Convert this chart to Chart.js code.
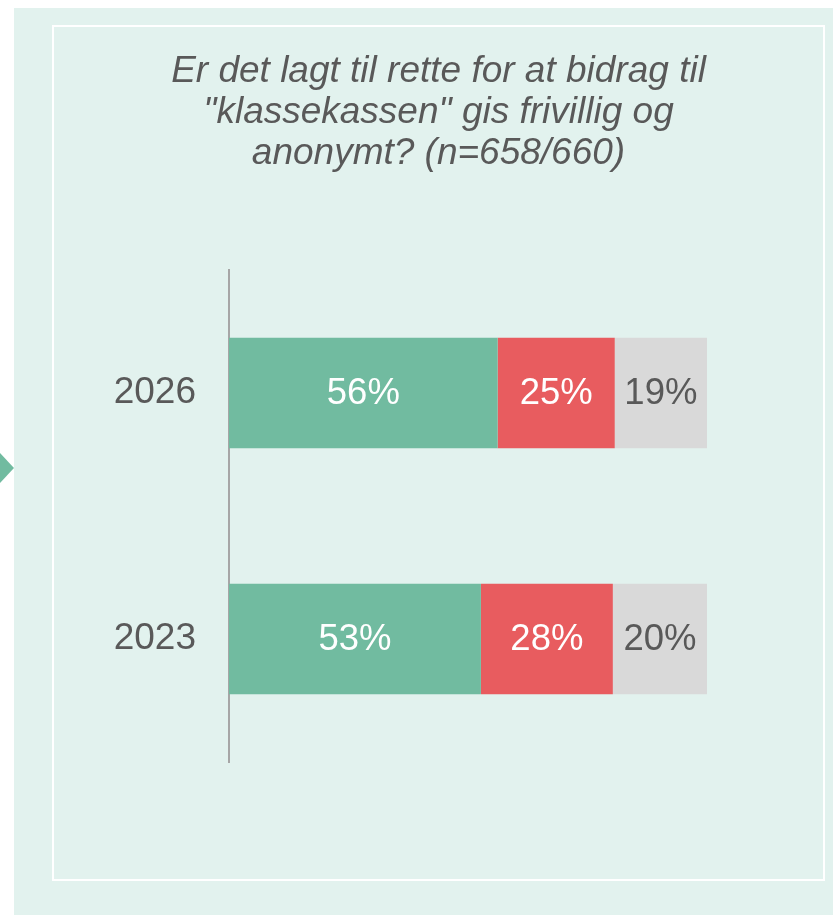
<!DOCTYPE html>
<html><head><meta charset="utf-8">
<script src="https://cdn.jsdelivr.net/npm/chart.js@4/dist/chart.umd.min.js"></script>
<style>html,body{margin:0;padding:0;background:#fff;overflow:hidden}#wrap{width:833px;height:915px;position:relative}</style>
</head><body><div id="wrap"><canvas id="c" width="833" height="915"></canvas></div>
<script>
const categories = ['2026', '2023'];
const seriesNames = ['Ja', 'Nei', 'Vet ikke'];
const jaValues = [56.2, 52.7];
const neiValues = [24.5, 27.6];
const vetIkkeValues = [19.3, 19.7];
const titleLines = ['Er det lagt til rette for at bidrag til', '"klassekassen" gis frivillig og', 'anonymt? (n=658/660)'];

const FAMILY = "'Liberation Sans', Arial, sans-serif";
const TEXT = '#595959';
const seriesColors = ['#71bba0', '#e85c5f', '#d9d9d9'];
const labelColors = ['#ffffff', '#ffffff', TEXT];

const backgroundPlugin = {
  id: 'bg',
  beforeDraw(chart) {
    const ctx = chart.ctx;
    ctx.save();
    ctx.fillStyle = '#ffffff';
    ctx.fillRect(0, 0, chart.width, chart.height);
    ctx.fillStyle = '#e2f2ee';
    ctx.fillRect(14, 8, chart.width - 14, chart.height - 8);
    ctx.strokeStyle = '#ffffff';
    ctx.lineWidth = 2;
    ctx.strokeRect(53, 26, 771, 854);
    ctx.fillStyle = '#71bba0';
    ctx.beginPath();
    ctx.moveTo(0, 453);
    ctx.lineTo(14, 468);
    ctx.lineTo(0, 483);
    ctx.closePath();
    ctx.fill();
    ctx.restore();
  }
};

const valueLabelPlugin = {
  id: 'valueLabels',
  afterDatasetsDraw(chart) {
    const ctx = chart.ctx;
    ctx.save();
    ctx.font = '36.5px ' + FAMILY;
    ctx.textAlign = 'center';
    ctx.textBaseline = 'middle';
    chart.data.datasets.forEach((ds, di) => {
      const meta = chart.getDatasetMeta(di);
      meta.data.forEach((el, i) => {
        const v = ds.data[i];
        ctx.fillStyle = labelColors[di];
        ctx.fillText(Math.round(v) + '%', (el.x + el.base) / 2, el.y + 1);
      });
    });
    ctx.restore();
  }
};

new Chart(document.getElementById('c'), {
  type: 'bar',
  data: {
    labels: categories,
    datasets: [
      { label: seriesNames[0], data: jaValues, backgroundColor: seriesColors[0] },
      { label: seriesNames[1], data: neiValues, backgroundColor: seriesColors[1] },
      { label: seriesNames[2], data: vetIkkeValues, backgroundColor: seriesColors[2] }
    ]
  },
  options: {
    indexAxis: 'y',
    responsive: false,
    animation: false,
    devicePixelRatio: 1,
    datasets: { bar: { categoryPercentage: 1, barPercentage: 0.45, borderWidth: 0 } },
    layout: { padding: { left: 53, right: 9, top: 0, bottom: 153 } },
    plugins: {
      legend: { display: false },
      tooltip: { enabled: false },
      title: {
        display: true,
        text: titleLines,
        color: TEXT,
        font: { family: FAMILY, size: 37, style: 'italic', weight: 'normal', lineHeight: 1.12 },
        padding: { top: 50.5, bottom: 95.2 }
      }
    },
    scales: {
      x: { type: 'linear', stacked: true, min: 0, max: 100, display: false },
      y: {
        type: 'category', stacked: true, position: 'left',
        grid: { display: false, drawTicks: false },
        border: { display: true, color: '#a6a6a6', width: 2 },
        ticks: { color: TEXT, font: { family: FAMILY, size: 37 }, padding: 33 },
        afterFit(s) { s.width = 176; }
      },
      yRight: {
        type: 'linear', position: 'right', display: true,
        grid: { display: false, drawTicks: false },
        border: { display: false },
        ticks: { display: false },
        afterFit(s) { s.width = 117; }
      }
    }
  },
  plugins: [backgroundPlugin, valueLabelPlugin]
});
</script></body></html>
